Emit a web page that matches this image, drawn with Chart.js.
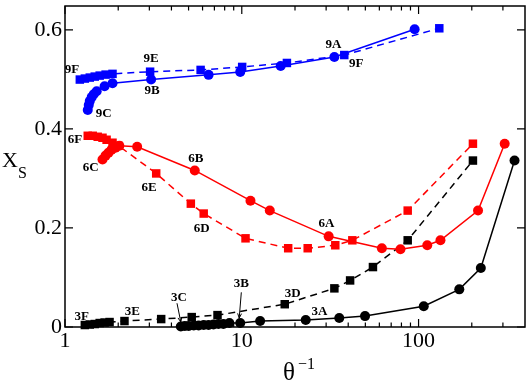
<!DOCTYPE html>
<html><head><meta charset="utf-8">
<script src="https://cdn.jsdelivr.net/npm/chart.js@4.4.0/dist/chart.umd.min.js"></script>
<style>html,body{margin:0;padding:0;background:#fff;overflow:hidden}</style>
</head><body>
<canvas id="c" width="531" height="382"></canvas>
<script>
// ---- data (x = theta^-1, y = X_S) ----
const s9circX = [1.345,1.363,1.381,1.416,1.454,1.511,1.675,1.857,3.07,6.49,9.8,16.6,33.4,95];
const s9circY = [0.438,0.448,0.456,0.464,0.470,0.476,0.486,0.492,0.4995,0.509,0.515,0.527,0.545,0.601];
const s9sqX = [1.213,1.295,1.381,1.473,1.571,1.697,1.857,3.03,5.85,10.05,18.0,38.0,131];
const s9sqY = [0.4995,0.5015,0.5035,0.5055,0.5075,0.5095,0.511,0.5154,0.519,0.525,0.533,0.549,0.603];
const s6circX = [1.63,1.697,1.764,1.834,1.931,2.03,2.56,5.42,11.2,14.4,31,62,79,112,133,217,307];
const s6circY = [0.338,0.346,0.352,0.358,0.362,0.366,0.364,0.316,0.255,0.235,0.183,0.159,0.157,0.165,0.175,0.235,0.370];
const s6sqX = [1.345,1.435,1.531,1.63,1.719,1.857,2.006,3.28,5.15,6.09,10.5,18.3,23.6,33.8,42.2,86.8,203];
const s6sqY = [0.386,0.386,0.384,0.382,0.378,0.372,0.366,0.310,0.249,0.229,0.179,0.159,0.159,0.165,0.175,0.235,0.370];
const s3sqX = [1.295,1.381,1.473,1.571,1.675,1.787,2.17,3.5,5.21,7.29,17.5,33.4,41,55.2,86.8,203];
const s3sqY = [0.004,0.005,0.006,0.008,0.009,0.010,0.012,0.016,0.020,0.024,0.046,0.078,0.094,0.121,0.175,0.336];
const s3circX = [4.52,4.76,5.01,5.35,5.70,6.09,6.49,6.92,7.38,7.87,8.51,9.8,12.7,23.0,35.6,49.8,107,170,225,349];
const s3circY = [0.001,0.002,0.002,0.003,0.003,0.004,0.004,0.005,0.006,0.006,0.008,0.008,0.012,0.014,0.018,0.022,0.042,0.076,0.119,0.336];

const xTickValues = [1, 10, 100];
const yTickValues = [0, 0.2, 0.4, 0.6];

// point labels (text, x, y in data units)
const labelText = ['9F','9E','9B','9C','9A','9F','6F','6C','6E','6B','6D','6A','3F','3E','3C','3B','3D','3A'];
const labelX = [1.094,3.07,3.11,1.654,33.0,44.4,1.138,1.399,2.99,5.49,5.93,30.1,1.245,2.40,4.41,9.94,19.4,27.5];
const labelY = [0.519,0.541,0.478,0.430,0.569,0.531,0.378,0.322,0.281,0.340,0.199,0.209,0.020,0.032,0.060,0.088,0.068,0.032];
// arrows: from (x1,y1) to (x2,y2)
const arrowFromX = [4.30, 9.94], arrowFromY = [0.048, 0.070];
const arrowToX = [4.52, 9.67], arrowToY = [0.010, 0.018];

const pts = (xs, ys) => xs.map((v, i) => ({x: v, y: ys[i]}));
const SERIF = "'Liberation Serif','Times New Roman',serif";

function ds(xs, ys, color, style, dashed) {
  return {
    data: pts(xs, ys), borderColor: color, backgroundColor: color,
    borderWidth: 1.5, borderDash: dashed ? [7, 5] : [],
    pointStyle: style, pointRadius: style === 'rect' ? 6 : 5,
    pointBorderWidth: 0, pointBackgroundColor: color,
    tension: 0, clip: false, showLine: true
  };
}

const framePlugin = {
  id: 'frame',
  beforeDatasetsDraw(chart) {
    const {ctx, chartArea: a, scales: {x, y}} = chart;
    ctx.save();
    ctx.strokeStyle = '#000';
    ctx.lineWidth = 1.5;
    ctx.strokeRect(a.left, a.top, a.right - a.left, a.bottom - a.top);
    ctx.lineWidth = 1.2;
    ctx.beginPath();
    const xt = (v, len) => {
      const p = x.getPixelForValue(v);
      ctx.moveTo(p, a.bottom); ctx.lineTo(p, a.bottom - len);
      ctx.moveTo(p, a.top); ctx.lineTo(p, a.top + len);
    };
    for (const d of [1, 10, 100]) {
      xt(d, 8);
      for (let m = 2; m <= 9; m++) { if (m * d < 400) xt(m * d, 4.5); }
    }
    for (const v of yTickValues) {
      const p = y.getPixelForValue(v);
      ctx.moveTo(a.left, p); ctx.lineTo(a.left + 8, p);
      ctx.moveTo(a.right, p); ctx.lineTo(a.right - 8, p);
    }
    ctx.stroke();
    ctx.restore();
  },
  afterDatasetsDraw(chart) {
    const {ctx, scales: {x, y}} = chart;
    ctx.save();
    ctx.fillStyle = '#000';
    ctx.font = 'bold 13px ' + SERIF;
    ctx.textAlign = 'center';
    ctx.textBaseline = 'middle';
    labelText.forEach((t, i) => {
      ctx.fillText(t, x.getPixelForValue(labelX[i]), y.getPixelForValue(labelY[i]));
    });
    ctx.strokeStyle = '#000';
    ctx.lineWidth = 1;
    arrowFromX.forEach((_, i) => {
      const x1 = x.getPixelForValue(arrowFromX[i]), y1 = y.getPixelForValue(arrowFromY[i]);
      const x2 = x.getPixelForValue(arrowToX[i]), y2 = y.getPixelForValue(arrowToY[i]);
      ctx.beginPath(); ctx.moveTo(x1, y1); ctx.lineTo(x2, y2); ctx.stroke();
      const ang = Math.atan2(y2 - y1, x2 - x1), h = 5;
      ctx.beginPath();
      ctx.moveTo(x2, y2);
      ctx.lineTo(x2 - h * Math.cos(ang - 0.4), y2 - h * Math.sin(ang - 0.4));
      ctx.moveTo(x2, y2);
      ctx.lineTo(x2 - h * Math.cos(ang + 0.4), y2 - h * Math.sin(ang + 0.4));
      ctx.stroke();
    });
    ctx.restore();
  },
  afterDraw(chart) {
    const {ctx} = chart;
    ctx.save();
    ctx.fillStyle = '#000';
    ctx.textBaseline = 'alphabetic';
    ctx.textAlign = 'left';
    ctx.font = '22px ' + SERIF;
    ctx.fillText('X', 2, 167);
    ctx.font = '16px ' + SERIF;
    ctx.fillText('S', 18, 178);
    ctx.font = '25px ' + SERIF;
    ctx.fillText('\u03B8', 283, 380);
    ctx.font = '16px ' + SERIF;
    ctx.fillText('\u22121', 298, 369);
    ctx.restore();
  }
};

new Chart(document.getElementById('c'), {
  type: 'line',
  data: {
    datasets: [
      ds(s9circX, s9circY, '#0000ff', 'circle', false),
      ds(s9sqX, s9sqY, '#0000ff', 'rect', true),
      ds(s6circX, s6circY, '#ff0000', 'circle', false),
      ds(s6sqX, s6sqY, '#ff0000', 'rect', true),
      ds(s3circX, s3circY, '#000000', 'circle', false),
      ds(s3sqX, s3sqY, '#000000', 'rect', true)
    ]
  },
  options: {
    responsive: false, animation: false, devicePixelRatio: 1,
    layout: {padding: {left: 0, right: 2, top: 2, bottom: 0}},
    plugins: {legend: {display: false}, tooltip: {enabled: false}},
    scales: {
      x: {
        type: 'logarithmic', min: 1, max: 400,
        grid: {display: false, drawTicks: false}, border: {display: false},
        afterBuildTicks: s => { s.ticks = xTickValues.map(v => ({value: v, major: true})); },
        afterFit: s => { s.height = 55; s.paddingLeft = 0; s.paddingRight = 0; },
        ticks: {color: '#000', font: {family: SERIF, size: 22}, padding: 1, maxRotation: 0,
                autoSkip: false, callback: v => String(v)}
      },
      y: {
        type: 'linear', min: 0, max: 0.648,
        grid: {display: false, drawTicks: false}, border: {display: false},
        afterBuildTicks: s => { s.ticks = yTickValues.map(v => ({value: v})); },
        afterFit: s => { s.width = 65; s.paddingTop = 0; s.paddingBottom = 0; },
        ticks: {color: '#000', font: {family: SERIF, size: 22}, padding: 3,
                callback: v => (v === 0 ? '0' : v.toFixed(1))}
      }
    }
  },
  plugins: [framePlugin]
});
</script>
</body></html>
